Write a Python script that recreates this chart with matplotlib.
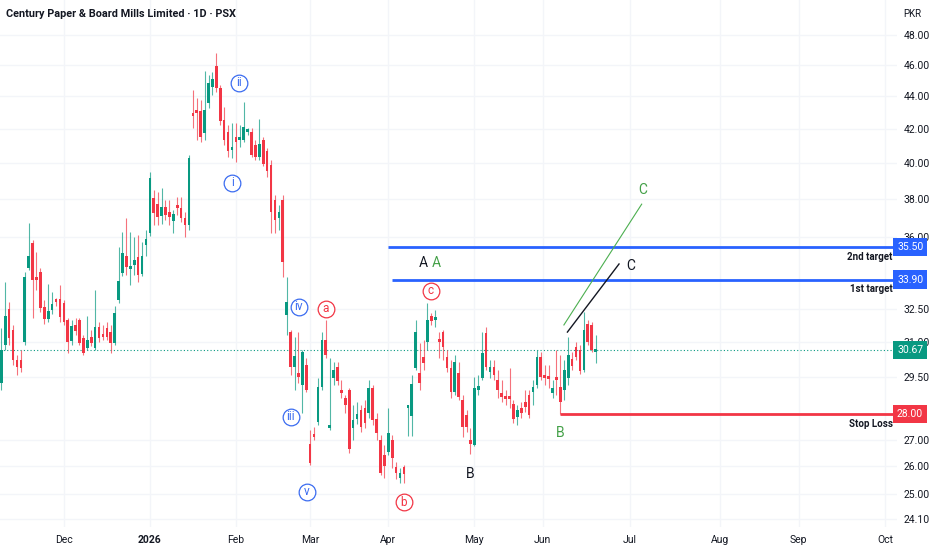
import numpy as np
import matplotlib
matplotlib.use("Agg")
import matplotlib.pyplot as plt
import matplotlib.transforms as mtransforms
from matplotlib.ticker import FixedLocator, FuncFormatter, NullLocator

plt.rcParams['font.family'] = ['Liberation Sans Narrow', 'Roboto', 'DejaVu Sans']

GREEN = '#089981'
RED = '#f23645'
BLUE = '#2962ff'
TXT = '#131722'

# daily candles (PKR)
opens = [29.26, 30.89, 32.52, 31.56, 30.24, 30.24, 31.02, 34.47, 35.72, 34.02,
         34.27, 32.61, 32.06, 32.47, 32.93, 32.98, 32.79, 32.01, 31.07, 31.78,
         32.01, 31.20, 30.76, 31.24, 30.76, 31.69, 31.38, 31.65, 31.47, 30.98,
         32.93, 34.22, 35.06, 34.42, 34.61, 35.01, 34.17, 35.61, 36.22, 38.08,
         37.75, 37.11, 37.59, 37.32, 36.85, 37.59, 37.54, 37.00, 36.64, 42.97,
         43.09, 43.09, 41.76, 43.58, 44.59, 45.94, 44.53, 42.54, 41.82, 40.77,
         41.53, 41.35, 41.35, 41.82, 41.82, 41.06, 40.37, 41.35, 40.71, 39.90,
         37.97, 37.00, 37.97, 32.24, 31.47, 29.94, 29.68, 29.18, 30.02, 26.83,
         27.21, 27.68, 29.09, 31.11, 27.45, 29.47, 29.94, 28.97, 28.64, 28.97,
         27.45, 27.80, 28.16, 28.24, 28.04, 29.05, 27.80, 26.98, 26.41, 26.53,
         26.98, 25.97, 25.56, 25.97, 28.24, 27.92, 29.90, 29.68, 30.37, 31.02,
         32.19, 32.01, 31.07, 31.47, 30.37, 29.90, 28.89, 29.68, 28.56, 27.96,
         26.98, 26.79, 28.97, 29.47, 31.42, 29.73, 29.94, 29.39, 28.85, 28.64,
         28.64, 28.40, 27.88, 28.24, 28.48, 28.77, 28.89, 29.18, 30.37, 29.51,
         29.47, 28.85, 29.47, 29.09, 28.97, 29.47, 30.28, 30.80, 30.67, 29.81,
         31.83, 31.78, 30.60]
highs = [31.65, 33.78, 32.84, 31.78, 30.45, 30.67, 34.27, 36.74, 35.87, 35.26,
         34.47, 32.93, 33.69, 33.31, 33.03, 33.64, 32.93, 32.10, 32.01, 32.10,
         32.10, 31.33, 32.19, 31.56, 33.40, 31.92, 31.78, 31.92, 31.78, 32.66,
         35.51, 36.28, 37.00, 36.28, 36.02, 36.12, 35.77, 36.38, 39.51, 38.51,
         38.40, 38.62, 37.97, 37.97, 37.43, 38.13, 38.13, 37.32, 40.48, 44.40,
         43.90, 43.77, 45.62, 45.36, 45.55, 46.80, 44.72, 43.33, 42.24, 42.36,
         42.36, 42.24, 43.64, 42.06, 42.06, 41.35, 42.60, 41.53, 40.88, 40.19,
         38.24, 37.70, 38.24, 34.02, 31.56, 31.24, 31.47, 30.67, 30.32, 27.37,
         27.48, 29.47, 31.47, 32.01, 30.32, 30.15, 30.15, 29.39, 28.76, 29.05,
         28.36, 28.48, 28.36, 28.56, 29.39, 29.18, 28.04, 27.17, 26.79, 28.24,
         27.17, 26.16, 25.93, 26.05, 28.36, 29.60, 32.01, 30.98, 31.11, 32.79,
         32.33, 32.47, 31.47, 31.56, 30.67, 30.24, 30.45, 30.15, 28.77, 28.16,
         27.45, 29.51, 29.60, 31.47, 31.69, 30.24, 30.24, 29.81, 29.39, 28.97,
         29.90, 28.56, 28.36, 28.48, 28.97, 28.97, 29.39, 30.67, 30.58, 30.02,
         30.02, 29.39, 30.67, 30.45, 30.24, 31.24, 30.58, 31.02, 30.89, 32.38,
         32.01, 31.92, 31.33]
lows = [28.97, 30.67, 30.89, 30.02, 29.60, 29.73, 30.89, 34.37, 32.10, 33.40,
        32.38, 31.83, 31.92, 32.29, 32.66, 31.92, 31.78, 30.54, 30.89, 31.33,
        30.89, 30.45, 30.67, 30.85, 30.67, 31.02, 31.11, 31.11, 30.54, 30.89,
        32.79, 34.07, 34.12, 33.64, 34.12, 33.78, 34.07, 35.06, 36.07, 36.64,
        36.64, 36.69, 36.90, 36.64, 36.22, 37.16, 36.80, 36.02, 36.38, 42.06,
        41.35, 41.23, 41.35, 43.27, 44.08, 44.27, 42.24, 41.06, 40.37, 40.30,
        40.07, 40.94, 41.23, 41.65, 40.37, 40.19, 40.19, 39.85, 39.23, 36.22,
        36.22, 36.38, 34.02, 31.33, 29.60, 28.97, 29.26, 28.04, 28.89, 26.05,
        26.98, 27.57, 28.97, 30.32, 27.37, 29.18, 29.18, 28.65, 28.04, 26.49,
        26.98, 27.60, 27.29, 27.45, 27.84, 27.57, 26.98, 25.68, 25.56, 26.41,
        25.93, 25.53, 25.38, 25.38, 27.14, 27.14, 29.81, 28.97, 29.81, 30.67,
        31.78, 31.69, 30.32, 30.24, 29.73, 28.64, 28.77, 28.56, 27.10, 27.29,
        26.45, 26.75, 28.76, 29.39, 29.81, 29.47, 29.39, 28.64, 28.48, 28.36,
        28.24, 27.64, 27.57, 27.84, 28.08, 27.84, 28.36, 29.05, 29.39, 29.18,
        29.05, 28.64, 28.77, 28.00, 28.56, 29.18, 29.81, 30.24, 29.64, 29.73,
        30.89, 30.58, 30.11]
closes = [30.67, 32.19, 31.20, 30.24, 29.94, 29.90, 34.02, 35.06, 33.88, 33.88,
          32.56, 32.06, 32.43, 32.75, 32.84, 32.15, 31.92, 31.02, 31.74, 31.51,
          30.98, 30.54, 31.11, 30.98, 31.69, 31.20, 31.24, 31.24, 30.98, 32.33,
          33.83, 35.21, 34.52, 34.47, 34.86, 34.12, 35.06, 35.92, 39.17, 37.27,
          37.06, 37.59, 37.16, 37.06, 37.22, 37.54, 37.00, 36.64, 40.30, 42.78,
          42.97, 41.53, 43.15, 44.85, 45.10, 44.53, 42.48, 41.35, 40.71, 40.83,
          41.23, 41.47, 42.12, 41.88, 40.48, 40.37, 41.12, 39.96, 39.56, 37.32,
          36.90, 37.32, 34.76, 32.84, 29.94, 30.41, 29.51, 30.58, 28.97, 26.12,
          27.10, 29.09, 31.11, 30.45, 27.53, 29.81, 29.35, 28.85, 28.36, 26.64,
          27.76, 28.00, 27.49, 27.64, 29.05, 27.76, 27.25, 25.75, 26.01, 27.25,
          26.30, 25.75, 25.75, 25.71, 28.28, 29.22, 31.47, 29.26, 30.11, 32.01,
          31.97, 32.10, 31.02, 30.80, 29.90, 28.89, 30.15, 28.68, 27.49, 27.49,
          26.83, 29.05, 29.14, 30.54, 29.94, 29.94, 29.60, 28.97, 28.68, 28.60,
          28.60, 27.80, 28.16, 28.04, 28.28, 27.96, 29.09, 30.37, 29.51, 29.47,
          29.43, 29.05, 29.39, 28.48, 29.81, 30.45, 29.98, 30.37, 29.77, 31.56,
          31.02, 30.67, 30.67]

# time axis (bar index where each month label sits)
month_pos = [16, 38, 60, 79, 99, 121, 138.5, 160.7, 183.8, 204, 226]
month_labels = ['Dec', '2026', 'Feb', 'Mar', 'Apr', 'May', 'Jun', 'Jul', 'Aug', 'Sep', 'Oct']
# 28.00 and 34.00 sit under the price boxes, so they are not labelled
price_ticks = [24.10, 25, 26, 27, 29.5, 31, 32.5, 36, 38, 40, 42, 44, 46, 48]

last_price = 30.67
target1 = 33.90
target2 = 35.50
stop_loss = 28.00

# elliott wave labels: (text, bar index, price)
wave_blue = [('ii', 60.9, 44.87), ('i', 59.1, 38.91), ('iv', 76.1, 32.61),
             ('iii', 74.0, 27.89), ('v', 78.1, 25.06)]
wave_red = [('a', 83.0, 32.52), ('b', 103.0, 24.69), ('c', 109.8, 33.37)]
letters = [('A', 107.8, 34.71, TXT), ('A', 111.2, 34.71, '#43a047'),
           ('B', 119.9, 25.71, TXT), ('B', 142.9, 27.27, '#43a047'),
           ('C', 164.1, 38.51, '#43a047'), ('C', 161.0, 34.56, TXT)]
green_leg = ([143.9, 163.8], [31.78, 37.74])
black_leg = ([144.8, 158.0], [31.46, 34.66])

fig = plt.figure(figsize=(9.32, 5.5), dpi=100)
ax = fig.add_axes([0, 23 / 550, 897 / 932, 527 / 550])
ax.set_facecolor('white')
for s in ax.spines.values():
    s.set_visible(False)

o = np.array(opens)
h = np.array(highs)
l = np.array(lows)
c = np.array(closes)
x = np.arange(len(o))
cols = np.where(c >= o, GREEN, RED)

ax.vlines(x, l, h, colors=cols, lw=0.8, alpha=0.7, zorder=3)
bot = np.minimum(o, c)
hgt = np.maximum(np.abs(c - o), bot * 0.004)
ax.bar(x, hgt, bottom=bot, width=0.68, color=cols, linewidth=0, zorder=3)

ax.set_yscale('log')
ax.set_ylim(23.84, 50.46)
ax.set_xlim(-0.33, 229.1)

ax.yaxis.tick_right()
ax.yaxis.set_major_locator(FixedLocator(price_ticks))
ax.yaxis.set_minor_locator(NullLocator())
ax.yaxis.set_major_formatter(FuncFormatter(lambda v, p: '%.2f' % v))
ax.tick_params(axis='y', length=0, pad=4.5, labelsize=7.5, labelcolor=TXT)
ax.set_xticks(month_pos)
ax.set_xticklabels(month_labels)
ax.tick_params(axis='x', length=0, pad=6, labelsize=7.5, labelcolor=TXT)
ax.get_xticklabels()[1].set_fontweight('bold')
ax.grid(True, color='#f3f5f9', lw=1, zorder=0)
ax.set_axisbelow(True)

# current price line
ax.axhline(last_price, color=GREEN, lw=0.8, ls=(0, (1, 2)), zorder=2)

# targets and stop
xr = ax.get_xlim()[1]
ax.hlines(target2, 98.9, xr, color=BLUE, lw=2, zorder=4)
ax.hlines(target1, 99.9, xr, color=BLUE, lw=2, zorder=4)
ax.hlines(stop_loss, 142.9, xr, color=RED, lw=2, zorder=4)

for val, name in [(target2, '2nd target'), (target1, '1st target'), (stop_loss, 'Stop Loss')]:
    ax.annotate(name, xy=(1.0, val), xycoords=('axes fraction', 'data'),
                xytext=(-3, -7), textcoords='offset points', ha='right', va='center',
                fontsize=7, fontweight='bold', color=TXT)

trans = mtransforms.blended_transform_factory(ax.transAxes, ax.transData)
for val, col in [(target2, BLUE), (target1, BLUE), (last_price, GREEN), (stop_loss, RED)]:
    ax.text(1.0, val, '%.2f' % val, transform=trans, ha='left', va='center',
            fontsize=7.5, color='white', clip_on=False, zorder=10,
            bbox=dict(boxstyle='square,pad=0.4', fc=col, ec='none'))

# wave labels
for txt, xi, yi in wave_blue:
    ax.plot(xi, yi, 'o', ms=12, mfc='white', mec='#3b6cf0', mew=0.9, zorder=6)
    ax.text(xi, yi, txt, ha='center', va='center', fontsize=8.5, color='#3b6cf0', zorder=7)
for txt, xi, yi in wave_red:
    ax.plot(xi, yi, 'o', ms=12, mfc='white', mec=RED, mew=0.9, zorder=6)
    ax.text(xi, yi, txt, ha='center', va='center', fontsize=8.5, color=RED, zorder=7)
for txt, xi, yi, col in letters:
    ax.text(xi, yi, txt, ha='center', va='center', fontsize=10, color=col, zorder=7)

ax.plot(green_leg[0], green_leg[1], color='#4caf50', lw=0.8, zorder=5)
ax.plot(black_leg[0], black_leg[1], color=TXT, lw=1, zorder=5)

fig.text(0.006, 1 - 14 / 550, 'Century Paper & Board Mills Limited \u00b7 1D \u00b7 PSX',
         ha='left', va='center', fontsize=7.8, fontweight='bold', color=TXT)
fig.text(1 - 20 / 932, 1 - 14 / 550, 'PKR', ha='center', va='center', fontsize=7, color=TXT)

fig.savefig('out.png', dpi=100, facecolor='white')
